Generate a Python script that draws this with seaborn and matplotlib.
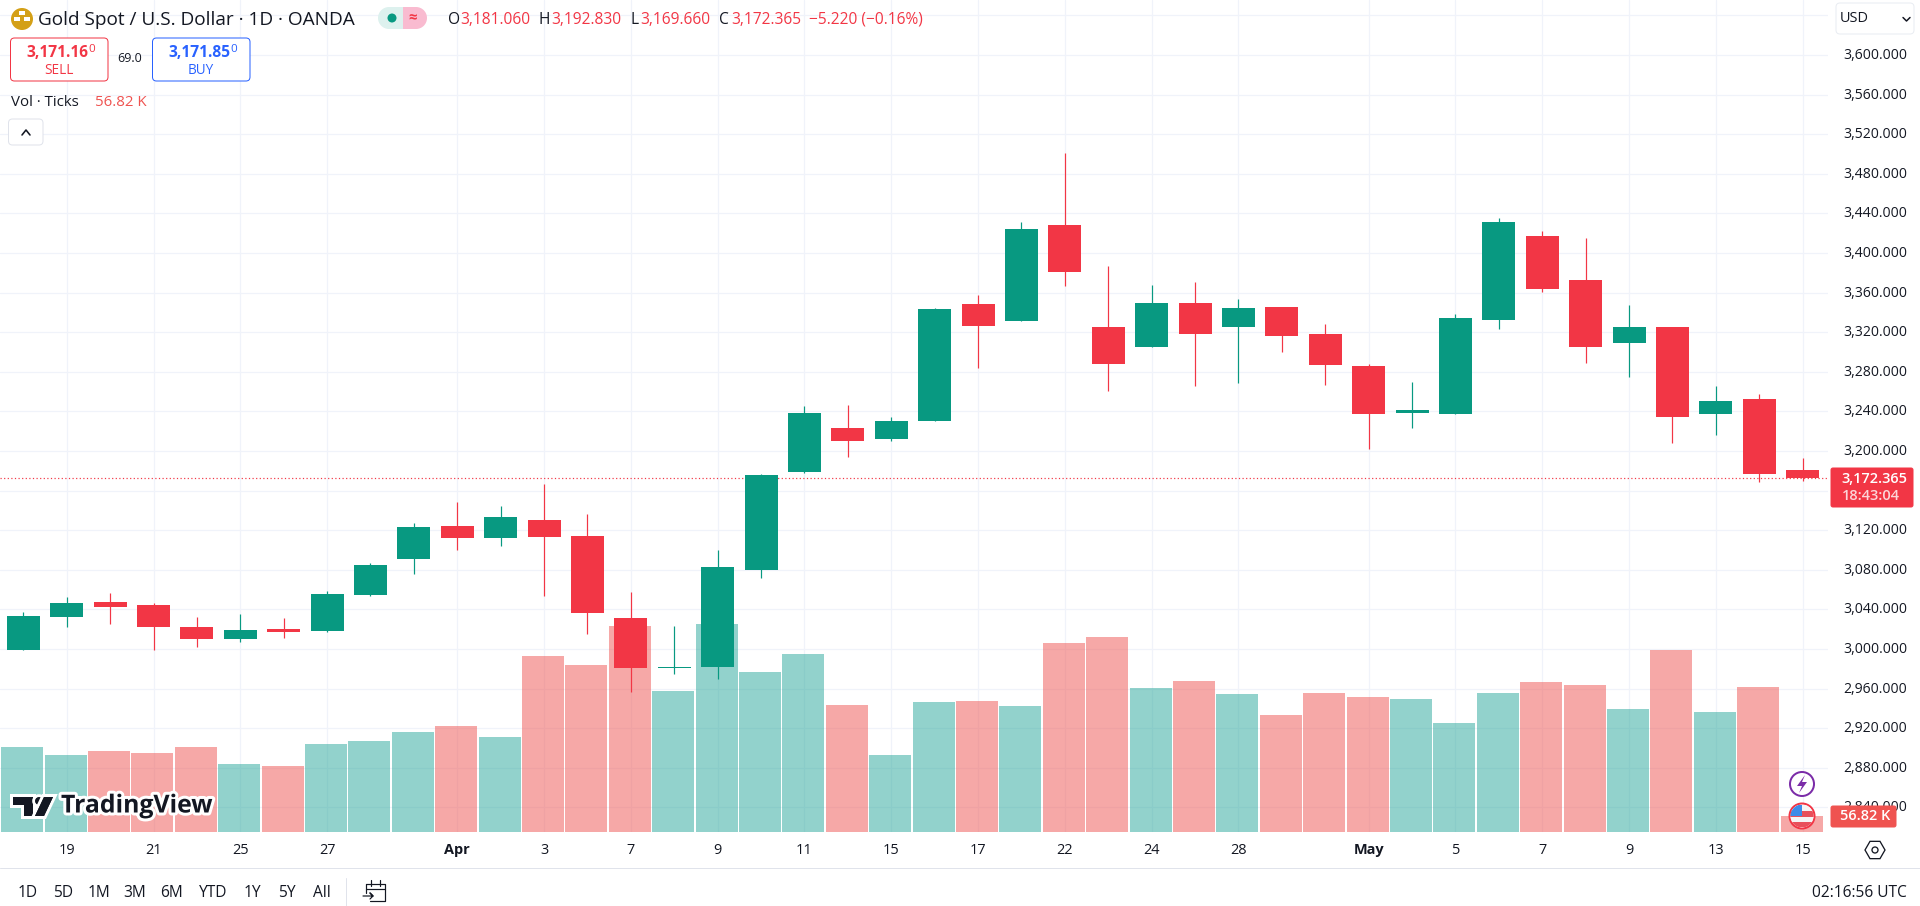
import matplotlib
matplotlib.use("Agg")
import matplotlib.pyplot as plt
import matplotlib.patheffects as pe
from matplotlib.patches import Circle, FancyBboxPatch, Polygon, Rectangle, RegularPolygon, Wedge
from matplotlib.transforms import ScaledTranslation
import numpy as np
import pandas as pd
import seaborn as sns

# daily candles (Mar 18 .. May 15)
opens = [2999.4, 3032.7, 3047.9, 3044.8, 3022.6, 3010.5, 3020.6, 3018.6, 3055.0, 3091.3, 3124.6, 3112.5, 3130.7, 3114.5,
         3031.0, 2981.0, 2981.5, 3079.5, 3178.5, 3223.0, 3211.9, 3230.0, 3348.2, 3331.0, 3428.0, 3325.0, 3304.8, 3349.2,
         3325.0, 3345.2, 3318.0, 3286.0, 3238.5, 3237.5, 3332.5, 3417.3, 3372.9, 3309.2, 3325.4, 3237.5, 3252.7, 3181.06]
highs = [3037.8, 3052.3, 3057.0, 3046.5, 3032.7, 3035.8, 3031.7, 3059.0, 3086.6, 3127.7, 3148.9, 3144.8, 3167.0, 3136.8,
         3057.3, 3023.0, 3099.7, 3176.5, 3245.2, 3246.2, 3234.0, 3344.0, 3357.3, 3431.0, 3500.7, 3386.6, 3367.4, 3370.4,
         3353.3, 3345.5, 3328.0, 3288.0, 3269.8, 3338.5, 3435.5, 3422.4, 3415.3, 3347.6, 3325.6, 3265.8, 3257.7, 3192.83]
lows = [2999.4, 3022.6, 3025.7, 2999.4, 3002.4, 3007.5, 3011.5, 3017.6, 3054.0, 3076.2, 3100.4, 3104.4, 3054.0, 3015.6,
        2956.6, 2975.0, 2969.8, 3071.4, 3177.5, 3193.7, 3209.8, 3230.0, 3283.6, 3331.0, 3366.4, 3260.3, 3304.8, 3265.4,
        3268.4, 3299.7, 3266.4, 3202.2, 3223.4, 3237.5, 3323.4, 3360.7, 3289.0, 3275.0, 3208.2, 3216.3, 3168.8, 3169.66]
closes = [3033.7, 3046.9, 3042.8, 3022.6, 3010.5, 3019.6, 3017.6, 3056.0, 3085.3, 3123.6, 3112.5, 3133.7, 3113.5, 3036.8,
          2980.5, 2982.0, 3082.6, 3175.5, 3238.1, 3209.8, 3230.0, 3343.2, 3326.0, 3424.0, 3380.5, 3287.6, 3349.2, 3318.0,
          3344.2, 3315.9, 3286.6, 3237.5, 3241.5, 3334.5, 3431.4, 3363.8, 3305.2, 3325.4, 3234.5, 3250.6, 3176.9, 3172.365]
volumes_k = [302.0, 273.5, 287.7, 280.6, 302.0, 241.5, 234.4, 312.6, 323.2, 355.2, 376.5, 337.4, 625.0, 593.2,
             731.7, 500.8, 738.8, 568.3, 632.3, 451.1, 273.5, 461.8, 465.3, 447.6, 671.3, 692.6, 511.5, 536.4,
             490.2, 415.6, 493.7, 479.5, 472.4, 387.2, 493.7, 532.8, 522.1, 436.9, 646.5, 426.2, 515.0, 56.82]

x_tick_pos = [1, 3, 5, 7, 10, 12, 14, 16, 18, 20, 22, 24, 26, 28, 31, 33, 35, 37, 39, 41]
x_tick_labels = ["19", "21", "25", "27", "Apr", "3", "7", "9", "11", "15", "17", "22", "24", "28", "May", "5", "7", "9", "13", "15"]
price_ticks = list(range(2840, 3601, 40))
hidden_ticks = [3160, 3640]  # gridline only, the tag / currency box sits over the label
range_buttons = ["1D", "5D", "1M", "3M", "6M", "YTD", "1Y", "5Y", "All"]
last_price = 3172.365

UP = "#089981"
DOWN = "#F23645"
VOL_UP = "#26A69A"
VOL_DOWN = "#EF5350"
GRID = "#F0F3FA"
TEXT = "#131722"
FONT = "Open Sans"

sns.set_theme(style="white")
plt.rcParams["font.family"] = [FONT, "DejaVu Sans"]


def px(v):
    # css pixels to points at dpi 100
    return v * 0.72


candles = pd.DataFrame({"open": opens, "high": highs, "low": lows, "close": closes, "volume": volumes_k})
candles["idx"] = range(len(candles))
candles["direction"] = np.where(candles["close"] >= candles["open"], "up", "down")

fig = plt.figure(figsize=(19.2, 9.06), dpi=100, facecolor="white")
rect = [0, 74 / 906, 1828 / 1920, 832 / 906]
xlim = (-23.3 / 43.4, (1828 - 23.3) / 43.4)
ylim = (2815.2, 3655.6)

# bottom layer: grid and tick labels
ax = fig.add_axes(rect)
ax.set_xlim(xlim)
ax.set_ylim(ylim)
ax.set_yticks(price_ticks + [3640])
ax.set_yticklabels(["" if p in hidden_ticks else f"{p:,.3f}" for p in price_ticks] + [""],
                   fontsize=px(14), color=TEXT, ha="right")
ax.yaxis.tick_right()
ax.tick_params(axis="y", length=0, pad=px(1907 - 1828))
for lab in ax.yaxis.get_majorticklabels():
    lab.set_transform(lab.get_transform() + ScaledTranslation(0, 1.5 / 100, fig.dpi_scale_trans))
ax.set_xticks(x_tick_pos)
ax.set_xticklabels(x_tick_labels, fontsize=px(14.5), color=TEXT)
ax.tick_params(axis="x", length=0, pad=px(11))
for lab in ax.get_xticklabels():
    if lab.get_text() in ("Apr", "May"):
        lab.set_fontweight("bold")
ax.grid(True, color=GRID, lw=px(1.2))
sns.despine(ax=ax, left=True, right=True, top=True, bottom=True)

# volume panel
ax_vol = fig.add_axes(rect)
sns.barplot(data=candles, x="idx", y="volume", hue="direction", hue_order=["up", "down"],
            palette={"up": VOL_UP, "down": VOL_DOWN}, native_scale=True, dodge=False, width=0.965,
            saturation=1, alpha=0.5, linewidth=0, errorbar=None, legend=False, ax=ax_vol)
ax_vol.set_xlim(xlim[0] + 0.025, xlim[1] + 0.025)
ax_vol.set_ylim(0, 832 * 3.551)
ax_vol.axis("off")

# candles
ax_c = fig.add_axes(rect)
ax_c.set_xlim(xlim)
ax_c.set_ylim(ylim)
ax_c.axis("off")
colors = [UP if d == "up" else DOWN for d in candles["direction"]]
ax_c.axhline(last_price, color=DOWN, lw=px(1.2), ls=(0, (1, 2)), zorder=1)
ax_c.vlines(candles["idx"], candles["low"], candles["high"], colors=colors, lw=px(1.2), zorder=2)
ax_c.bar(candles["idx"], (candles["close"] - candles["open"]).abs(),
         bottom=candles[["open", "close"]].min(axis=1), color=colors, width=0.76, linewidth=0, zorder=3)

# everything around the chart, in screen pixels
ov = fig.add_axes([0, 0, 1, 1])
ov.set_xlim(0, 1920)
ov.set_ylim(906, 0)
ov.axis("off")
ov.patch.set_visible(False)


def label(x, y, s, size=14.5, color=TEXT, ha="left", weight="normal", **kw):
    return ov.text(x, y, s, fontsize=px(size), color=color, ha=ha, va="center", fontweight=weight, **kw)


def box(x0, y0, x1, y1, edge, face="white", lw=1.0, r=4):
    ov.add_patch(FancyBboxPatch((x0 + r, y0 + r), x1 - x0 - 2 * r, y1 - y0 - 2 * r,
                                boxstyle=f"round,pad={r},rounding_size={r}",
                                fc=face, ec=edge, lw=px(lw)))


# header
ov.add_patch(Circle((22, 19), 11, fc="#D4A017", ec="none"))
ov.add_patch(Rectangle((19, 11), 6, 4, fc="white", ec="none"))
ov.add_patch(Rectangle((14, 17), 6, 4, fc="white", ec="none"))
ov.add_patch(Rectangle((24, 17), 6, 4, fc="white", ec="none"))
label(38, 20, "Gold Spot / U.S. Dollar · 1D · OANDA", size=19)

ov.add_patch(Wedge((389, 18), 11, 90, 270, fc="#DDF1EE", ec="none"))
ov.add_patch(Rectangle((389, 7), 14, 22, fc="#DDF1EE", ec="none"))
ov.add_patch(Wedge((416, 18), 11, 270, 90, fc="#F9BBD0", ec="none"))
ov.add_patch(Rectangle((403, 7), 13, 22, fc="#F9BBD0", ec="none"))
ov.add_patch(Circle((392, 18), 4.5, fc=UP, ec="none"))
label(413, 18, "≈", size=15, color=DOWN, ha="center", weight="bold")

for x, letter, x_val, val in [(448, "O", 460, "3,181.060"), (539, "H", 551, "3,192.830"),
                              (631, "L", 640, "3,169.660"), (719, "C", 731, "3,172.365")]:
    label(x, 20, letter, size=15.5)
    label(x_val, 20, val, size=15.5, color=DOWN)
label(809, 20, "−5.220 (−0.16%)", size=15.5, color=DOWN)

# sell / buy
box(10.5, 38, 108, 81, DOWN)
label(88, 53, "3,171.16", size=15.5, color=DOWN, ha="right", weight="bold")
label(88, 50, "0", size=11.5, color=DOWN)
label(59, 70, "SELL", size=13.5, color=DOWN, ha="center")
box(152.5, 38, 250, 81, "#2962FF")
label(230, 53, "3,171.85", size=15.5, color="#2962FF", ha="right", weight="bold")
label(230, 50, "0", size=11.5, color="#2962FF")
label(201, 70, "BUY", size=13.5, color="#2962FF", ha="center")
label(130, 59, "69.0", size=12.5, ha="center")

label(11, 102, "Vol · Ticks", size=15)
label(95, 102, "56.82 K", size=15, color=VOL_DOWN)
box(8.5, 119, 43, 145, "#E0E3EB")
ov.plot([22, 26, 30], [135, 130, 135], color=TEXT, lw=px(1.6))

# currency selector
box(1836, 3, 1914, 34, "#E9ECF2")
label(1840, 19, "USD", size=14.5)
ov.plot([1903, 1906.5, 1910], [17.5, 21, 17.5], color=TEXT, lw=px(1.5))

# last price and volume tags
box(1831, 468, 1913, 507, DOWN, face=DOWN, r=2)
label(1907, 479, f"{last_price:,.3f}", size=14.5, color="white", ha="right", weight="semibold")
label(1900, 496.5, "18:43:04", size=14.5, color="#FCD5D9", ha="right", weight="semibold")
box(1831, 806, 1896, 827, VOL_DOWN, face=VOL_DOWN, r=2)
label(1890, 816.5, "56.82 K", size=14.5, color="white", ha="right", weight="semibold")

# logo
halo = [pe.withStroke(linewidth=px(6), foreground="white")]
logo_parts = [Polygon([(13, 797), (33, 797), (33, 816), (24, 816), (24, 805), (13, 805)], closed=True, fc="#131722", ec="none"),
              Circle((39, 801), 3.8, fc="#131722", ec="none"),
              Polygon([(44, 797), (53, 797), (44, 816), (35, 816)], closed=True, fc="#131722", ec="none")]
for part in logo_parts:
    part.set_path_effects(halo + [pe.Normal()])
    ov.add_patch(part)
label(61, 806, "TradingView", size=24.8, weight="bold", color="#131722",
      path_effects=[pe.withStroke(linewidth=px(6), foreground="white")])

# event icons near the last candle
ov.add_patch(Circle((1802, 784), 12, fc="white", ec="#7B2CA8", lw=px(2)))
ov.add_patch(Polygon([(1805, 775), (1797, 786), (1802, 786), (1799, 793), (1807, 782), (1802, 782)],
                     closed=True, fc="#7B2CA8", ec="none"))
flag_clip = Circle((1802, 816), 11.5, transform=ov.transData)
ov.add_patch(Circle((1802, 816), 12.5, fc="white", ec=DOWN, lw=px(2)))
for y0, h, c in [(805, 6, "#F5F5F5"), (811, 6, "#E8505B"), (817, 5, "#F5F5F5"), (822, 5, "#E8505B")]:
    bar = ov.add_patch(Rectangle((1790, y0), 24, h, fc=c, ec="none"))
    bar.set_clip_path(flag_clip)
canton = ov.add_patch(Rectangle((1790, 805), 12, 11, fc="#3D8BE8", ec="none"))
canton.set_clip_path(flag_clip)

# settings icon
ov.add_patch(RegularPolygon((1875, 850), 6, radius=10, orientation=np.pi / 6, fc="white", ec=TEXT, lw=px(1.3)))
ov.add_patch(Circle((1875, 850), 3, fc="white", ec=TEXT, lw=px(1.3)))

# bottom toolbar
ov.plot([0, 1920], [867.5, 867.5], color="#E0E3EB", lw=px(1))
ov.plot([345.5, 345.5], [878, 906], color="#E0E3EB", lw=px(1))
for x, name in zip([28, 62.7, 99, 135, 171.7, 212.7, 252, 286.7, 321.7], range_buttons):
    label(x, 893, name, size=15.5, ha="center")
ov.plot([366, 385, 385, 370], [884, 884, 901, 901], color=TEXT, lw=px(1.2))
ov.plot([366, 366], [884, 893], color=TEXT, lw=px(1.2))
ov.plot([366, 385], [889, 889], color=TEXT, lw=px(1.2))
ov.plot([371, 371], [880, 886], color=TEXT, lw=px(1.2))
ov.plot([380, 380], [880, 886], color=TEXT, lw=px(1.2))
ov.plot([363, 373, 370, 373, 370], [896, 896, 893, 896, 899], color=TEXT, lw=px(1.2))
label(1907, 893, "02:16:56 UTC", size=15.5, ha="right")

fig.savefig("out.png", dpi=100)
